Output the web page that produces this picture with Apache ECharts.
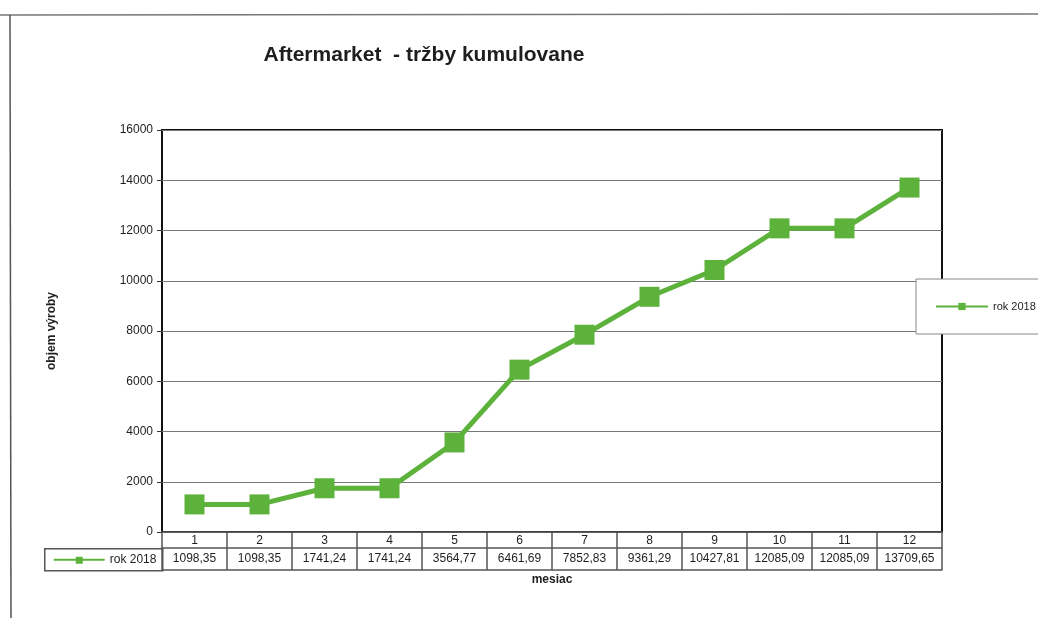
<!DOCTYPE html>
<html>
<head>
<meta charset="utf-8">
<script src="https://cdn.jsdelivr.net/npm/echarts@6/dist/echarts.min.js"></script>
<style>
  html, body { margin: 0; padding: 0; background: #fff; }
  #chart { width: 1038px; height: 618px; }
</style>
</head>
<body>
<div id="chart"></div>
<script>
const months = ['1', '2', '3', '4', '5', '6', '7', '8', '9', '10', '11', '12']
const rok2018 = [1098.35, 1098.35, 1741.24, 1741.24, 3564.77, 6461.69, 7852.83, 9361.29, 10427.81, 12085.09, 12085.09, 13709.65]
const yTicks = [0, 2000, 4000, 6000, 8000, 10000, 12000, 14000, 16000]
const seriesName = 'rok 2018'

const GREEN = '#5cb23a'
const INK = '#1e1e1e'
const TABLE = '#555'
const FONT = 'Liberation Sans, Arial, sans-serif'

const fmtValue = (v) => v.toFixed(2).replace('.', ',')

const chart = echarts.init(document.getElementById('chart'))

chart.setOption({
  animation: false,
  backgroundColor: '#fff',
  textStyle: { fontFamily: FONT },
  title: {
    text: 'Aftermarket  - tržby kumulovane',
    left: 419,
    top: 40,
    textAlign: 'center',
    textStyle: { fontSize: 21, fontWeight: 'bold', color: INK, fontFamily: FONT },
  },
  grid: {
    left: 162, right: 96, top: 130, bottom: 86,
    show: true, borderColor: '#111', borderWidth: 2, backgroundColor: 'transparent',
  },
  legend: {
    data: [seriesName],
    left: 916,
    top: 279,
    orient: 'vertical',
    backgroundColor: '#fff',
    borderColor: '#888',
    borderWidth: 1,
    borderRadius: 0,
    padding: [22, 60, 22, 19],
    itemWidth: 52,
    itemHeight: 9,
    itemGap: 4,
    textStyle: { fontSize: 11, color: INK, fontFamily: FONT },
  },
  xAxis: [
    {
      type: 'category',
      data: months,
      boundaryGap: true,
      axisLine: { show: true, lineStyle: { color: TABLE, width: 1.5 } },
      axisTick: { show: true, inside: false, length: 16, lineStyle: { color: TABLE, width: 1.5 } },
      axisLabel: { color: INK, fontSize: 12, margin: 3, interval: 0 },
      splitLine: { show: false },
    },
    {
      type: 'category',
      data: rok2018.map(fmtValue),
      position: 'bottom',
      offset: 16,
      boundaryGap: true,
      axisLine: { show: true, lineStyle: { color: TABLE, width: 1.5 } },
      axisTick: { show: true, length: 22, lineStyle: { color: TABLE, width: 1.5 } },
      axisLabel: { color: INK, fontSize: 12, margin: 5, interval: 0 },
      name: 'mesiac',
      nameLocation: 'middle',
      nameGap: 15,
      nameTextStyle: { fontSize: 12, fontWeight: 'bold', color: INK, padding: [11, 0, 0, 0] },
    },
    {
      type: 'category',
      data: months,
      position: 'bottom',
      offset: 38,
      boundaryGap: true,
      axisLine: { show: true, lineStyle: { color: TABLE, width: 1.5 } },
      axisTick: { show: false },
      axisLabel: { show: false },
    },
  ],
  yAxis: {
    type: 'value',
    min: yTicks[0],
    max: yTicks[yTicks.length - 1],
    interval: 2000,
    axisLine: { show: false },
    axisTick: { show: true, length: 5, lineStyle: { color: '#333' } },
    axisLabel: { color: INK, fontSize: 12, margin: 9, formatter: (v) => String(v) },
    splitLine: { show: true, lineStyle: { color: '#777', width: 1 } },
    name: 'objem výroby',
    nameLocation: 'middle',
    nameRotate: 90,
    nameGap: 104,
    nameTextStyle: { fontSize: 12, fontWeight: 'bold', color: INK },
  },
  series: [
    {
      name: seriesName,
      type: 'line',
      data: rok2018,
      xAxisIndex: 0,
      symbol: 'rect',
      symbolSize: 20,
      lineStyle: { color: GREEN, width: 5 },
      itemStyle: { color: GREEN },
      z: 3,
    },
  ],
  graphic: [
    // scan frame
    { type: 'line', shape: { x1: 0, y1: 15, x2: 1038, y2: 14 }, style: { stroke: '#777', lineWidth: 1.5 }, silent: true },
    { type: 'line', shape: { x1: 10, y1: 15, x2: 11, y2: 618 }, style: { stroke: '#555', lineWidth: 1.5 }, silent: true },
    // legend key cell of the data table
    {
      type: 'group', left: 44, top: 548,
      children: [
        { type: 'rect', shape: { x: 0, y: 0, width: 118, height: 22 }, style: { fill: '#fff', stroke: TABLE, lineWidth: 1.5 } },
        { type: 'line', shape: { x1: 9, y1: 11, x2: 60, y2: 11 }, style: { stroke: GREEN, lineWidth: 2 } },
        { type: 'rect', shape: { x: 31, y: 8, width: 7, height: 7 }, style: { fill: GREEN } },
        { type: 'text', style: { x: 65, y: 11, text: seriesName, fill: INK, font: '12px ' + FONT, verticalAlign: 'middle' } },
      ],
    },
  ],
})
</script>
</body>
</html>
